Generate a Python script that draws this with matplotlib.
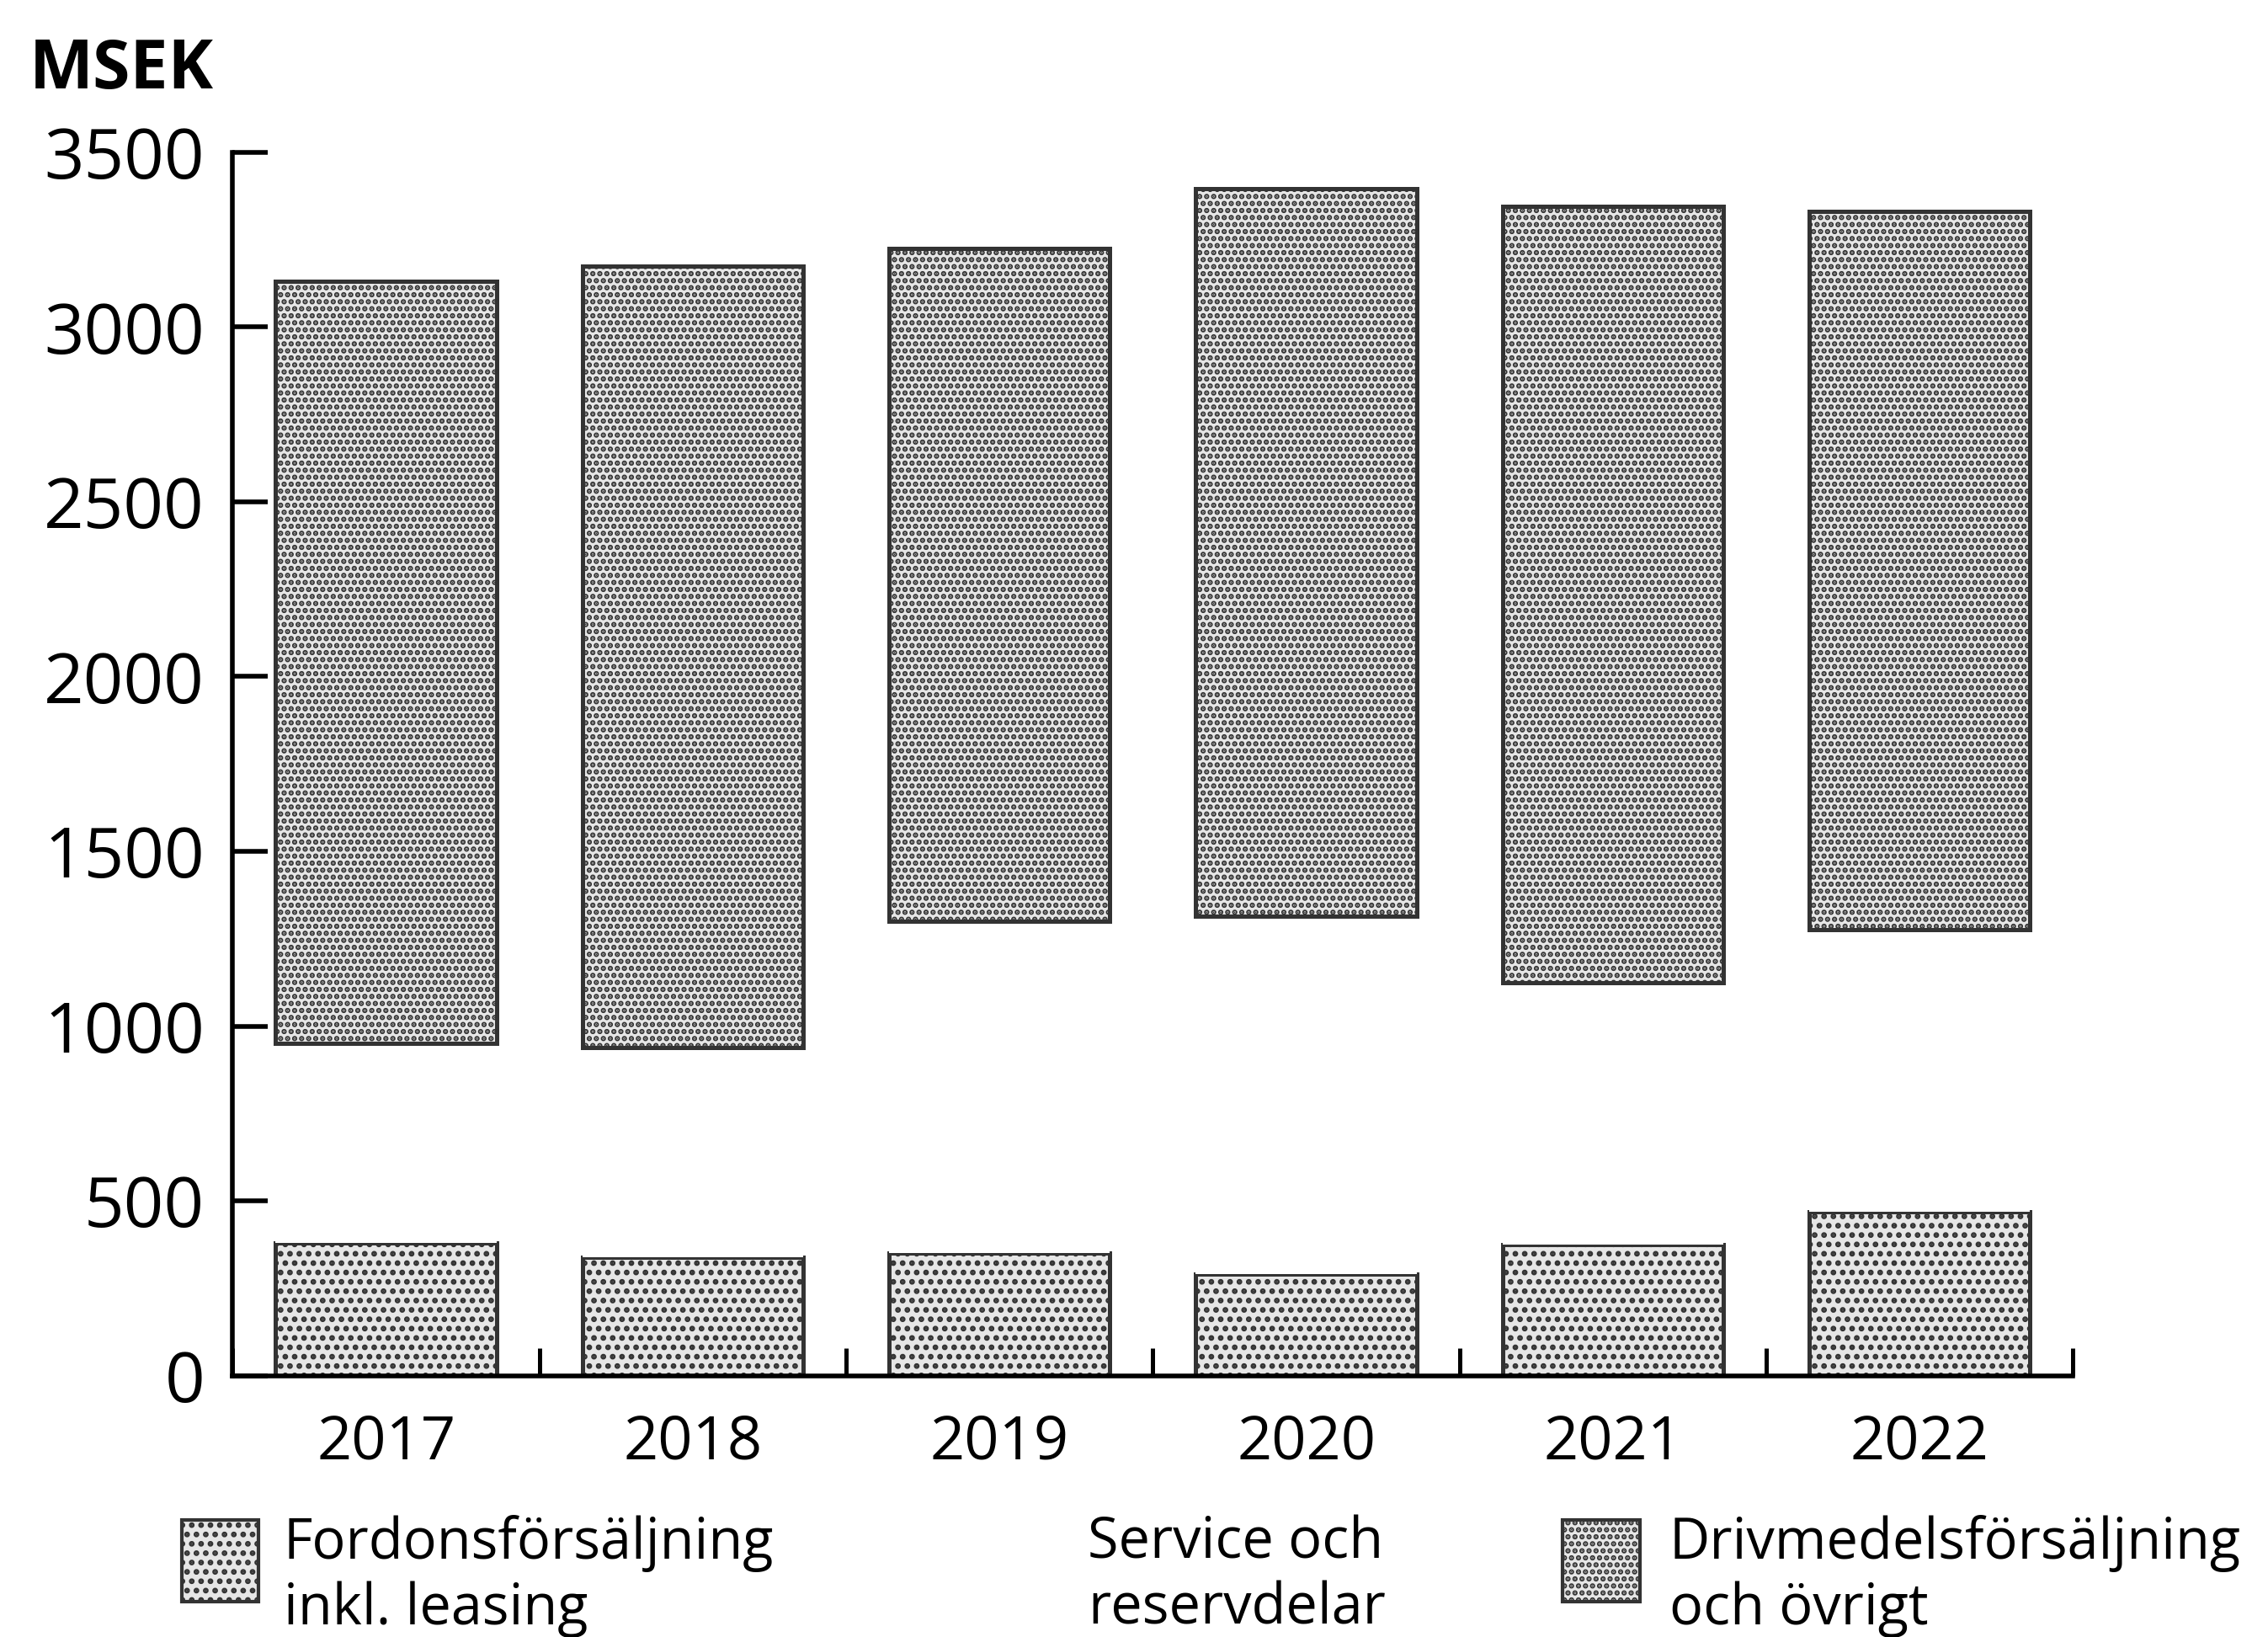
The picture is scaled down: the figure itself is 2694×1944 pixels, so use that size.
import matplotlib
matplotlib.use("Agg")
import matplotlib.pyplot as plt
from matplotlib.patches import Rectangle
import numpy as np

years = ["2017", "2018", "2019", "2020", "2021", "2022"]
fordon = [380, 340, 350, 290, 375, 470]
service = [570, 600, 950, 1025, 750, 805]
drivmedel = [2180, 2235, 1925, 2080, 2220, 2055]
labels = ["Fordonsförsäljning\ninkl. leasing", "Service och\nreservdelar",
          "Drivmedelsförsäljning\noch övrigt"]
yticks = [0, 500, 1000, 1500, 2000, 2500, 3000, 3500]

plt.rcParams['font.family'] = ['Open Sans', 'DejaVu Sans']
plt.rcParams['hatch.linewidth'] = 1.6

DPI = 200
fig = plt.figure(figsize=(2694 / DPI, 1944 / DPI), dpi=DPI)
ax = fig.add_axes([0.1026, 0.1596, 0.914 - 0.1026, 0.907 - 0.1596])

x = np.arange(len(years))
w = 0.72
face = "#e6e6e6"
edge = "#333333"
ax.bar(x, fordon, w, color=face, edgecolor=edge, hatch="...", linewidth=1.8)
ax.bar(x, service, w, bottom=fordon, color="white", edgecolor="none")
bot2 = np.array(fordon) + np.array(service)
ax.bar(x, drivmedel, w, bottom=bot2, color=face, edgecolor=edge, hatch="....", linewidth=1.8)

ax.set_xlim(-0.5, len(years) - 0.5)
ax.set_ylim(0, 3500)
for s in ["top", "right"]:
    ax.spines[s].set_visible(False)
for s in ["left", "bottom"]:
    ax.spines[s].set_linewidth(2)

ax.set_yticks(yticks)
ax.set_yticklabels([str(v) for v in yticks], fontsize=30)
ax.tick_params(axis="y", direction="in", length=15, width=2, pad=12)

ax.set_xticks(x)
ax.set_xticklabels(years, fontsize=26)
ax.tick_params(axis="x", which="major", length=0, pad=16)
ax.set_xticks(np.arange(-0.5, len(years)), minor=True)
ax.tick_params(axis="x", which="minor", direction="in", length=12, width=1.8)

fig.text(0.013, 0.957, "MSEK", fontsize=29, fontweight="bold", va="center", ha="left")

# legend
icon_x = [0.080, None, 0.689]
text_x = [0.125, 0.4795, 0.736]
styles = [dict(facecolor=face, edgecolor=edge, hatch="..."), None,
          dict(facecolor=face, edgecolor=edge, hatch="....")]
for ix, tx, st, lab in zip(icon_x, text_x, styles, labels):
    if ix is not None:
        fig.patches.append(Rectangle((ix, 0.0215), 0.034, 0.050, transform=fig.transFigure,
                                     linewidth=1.5, **st))
    fig.text(tx, 0.0745, lab, fontsize=24, va="top", ha="left", linespacing=1.2)

fig.savefig("out.png", dpi=DPI, facecolor="white")
